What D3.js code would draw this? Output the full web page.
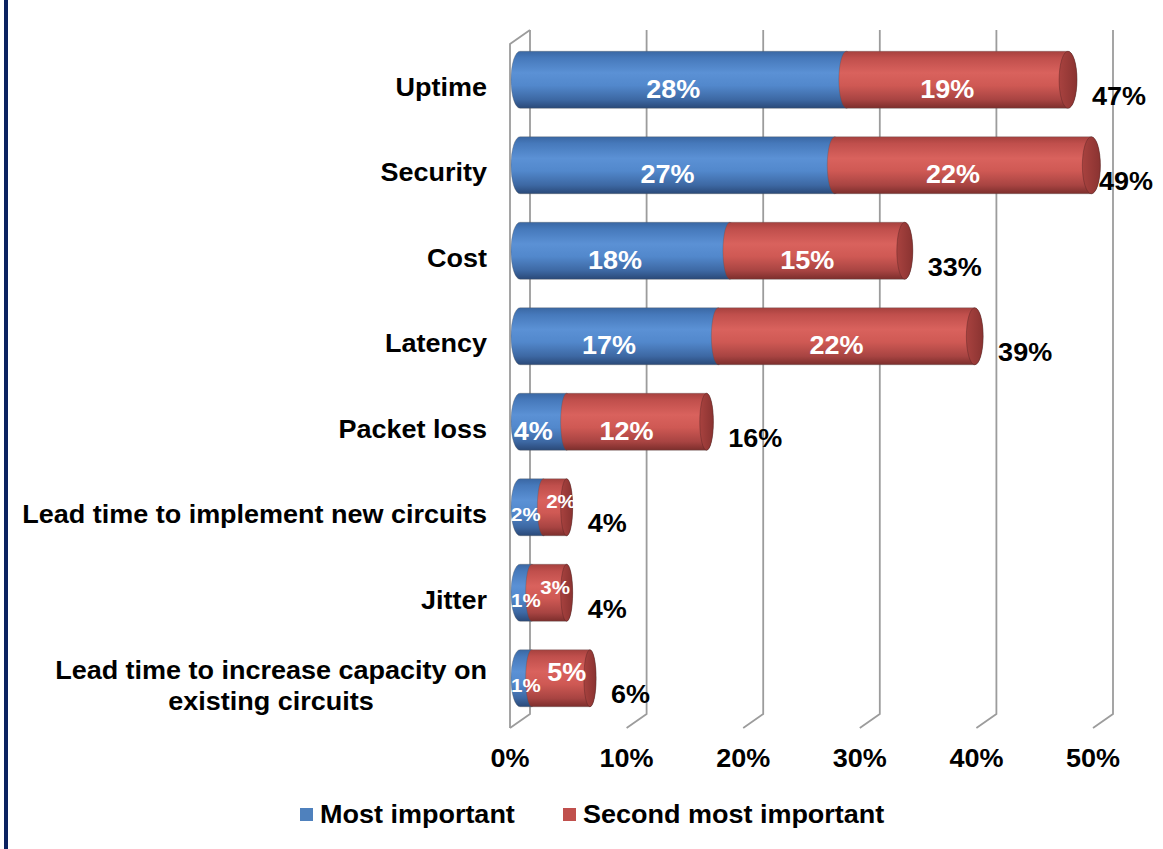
<!DOCTYPE html>
<html>
<head>
<meta charset="utf-8">
<script src="https://cdn.jsdelivr.net/npm/d3@7"></script>
<style>
  html, body { margin: 0; padding: 0; background: #ffffff; }
  svg { display: block; }
  text { font-family: "Liberation Sans", Arial, sans-serif; font-weight: bold; }
</style>
</head>
<body>
<script>
// Survey results: most important vs second most important network attribute
const categories = [
  "Uptime",
  "Security",
  "Cost",
  "Latency",
  "Packet loss",
  "Lead time to implement new circuits",
  "Jitter",
  "Lead time to increase capacity on\nexisting circuits"
];
const mostImportant = [28, 27, 18, 17, 4, 2, 1, 1];
const secondMostImportant = [19, 22, 15, 22, 12, 2, 3, 5];
const totals = [47, 49, 33, 39, 16, 4, 4, 6];
const xTicks = [0, 10, 20, 30, 40, 50];
const seriesNames = ["Most important", "Second most important"];

const W = 1163, H = 849;
const FRONT_TOP = 44, FRONT_BOTTOM = 728;
const DX = 20, DY = -14;          // depth offset of the back wall
const STRETCH = 1.08;              // horizontal text stretch

const svg = d3.select("body").append("svg").attr("width", W).attr("height", H);

// page frame edge
svg.append("rect").attr("x", 4).attr("y", 0).attr("width", 4).attr("height", H).attr("fill", "#0b2260");

const x = d3.scaleLinear().domain([0, 50]).range([510, 1093]);
const y = d3.scaleBand().domain(categories).range([FRONT_TOP, FRONT_BOTTOM])
  .paddingInner(1 / 3).paddingOuter(1 / 6);

const defs = svg.append("defs");
function vGrad(id, stops) {
  const g = defs.append("linearGradient").attr("id", id).attr("x1", 0).attr("y1", 0).attr("x2", 0).attr("y2", 1);
  stops.forEach(([o, c]) => g.append("stop").attr("offset", o).attr("stop-color", c));
}
vGrad("blueBody", [[0, "#3a67a3"], [0.12, "#4679bb"], [0.38, "#5b91d5"], [0.6, "#5288cc"], [0.85, "#3d68a3"], [1, "#2a4978"]]);
vGrad("redBody", [[0, "#a6413e"], [0.12, "#c04f4c"], [0.38, "#d9625d"], [0.6, "#cf5954"], [0.85, "#a84442"], [1, "#7c2e2c"]]);
const capG = defs.append("linearGradient").attr("id", "redCap").attr("x1", 0).attr("y1", 0).attr("x2", 1).attr("y2", 0);
capG.append("stop").attr("offset", 0).attr("stop-color", "#a8423f");
capG.append("stop").attr("offset", 1).attr("stop-color", "#8a3331");

// back wall, left wall and floor edges
const grid = svg.append("g").attr("fill", "none").attr("stroke", "#9c9c9c").attr("stroke-width", 1.8);
xTicks.forEach(t => {
  grid.append("path").attr("d",
    `M${x(t) + DX},${FRONT_TOP + DY} V${FRONT_BOTTOM + DY} L${x(t)},${FRONT_BOTTOM}`);
});
grid.append("path").attr("d",
  `M${x(0)},${FRONT_BOTTOM} V${FRONT_TOP} L${x(0) + DX},${FRONT_TOP + DY}`);

// stretched text helper
function label(parent, str, px, py, opt = {}) {
  const g = parent.append("g").attr("transform", `translate(${px},${py}) scale(${STRETCH},1)`);
  const t = g.append("text").attr("x", 0).attr("y", 0)
    .attr("font-size", opt.size || 25)
    .attr("fill", opt.fill || "#000")
    .attr("text-anchor", opt.anchor || "start")
    .text(str);
  return t;
}

function rxAt(xc) { return Math.max(6, Math.min(9, 6 + (xc - 570) * 3 / 510)); }

const bars = svg.append("g");
const labels = svg.append("g");

categories.forEach((c, i) => {
  const frontCenter = y(c) + y.bandwidth() / 2;
  const cy = frontCenter + DY / 2;
  const ry = y.bandwidth() / 2;
  const top = cy - ry, bottom = cy + ry;
  const segs = [
    { a: 0, b: mostImportant[i], fill: "url(#blueBody)", v: mostImportant[i], s: 0 },
    { a: mostImportant[i], b: mostImportant[i] + secondMostImportant[i], fill: "url(#redBody)", v: secondMostImportant[i], s: 1 }
  ];
  let endX = 0, endRx = 0;
  segs.forEach(sg => {
    const x0 = x(sg.a) + DX / 2, x1 = x(sg.b) + DX / 2;
    const rxL = sg.a === 0 ? 9 : rxAt(x0);
    const rxR = rxAt(x1);
    bars.append("path")
      .attr("d", `M${x0},${top} L${x1},${top} A${rxR},${ry} 0 0 1 ${x1},${bottom} L${x0},${bottom} A${rxL},${ry} 0 0 1 ${x0},${top} Z`)
      .attr("fill", sg.fill)
      .attr("stroke", "rgba(80,80,80,0.3)").attr("stroke-width", 1);
    endX = x1; endRx = rxR;
  });
  // visible end face
  bars.append("ellipse").attr("cx", endX).attr("cy", cy).attr("rx", endRx).attr("ry", ry)
    .attr("fill", "url(#redCap)").attr("stroke", "rgba(70,30,30,0.35)").attr("stroke-width", 1);

  // segment value labels
  const short = totals[i] < 10;
  segs.forEach(sg => {
    const fs = sg.v >= 4 ? 25 : 19;
    const mid = (sg.a + sg.b) / 2;
    let px = x(mid), py = frontCenter + 11;
    if (short) {
      if (sg.s === 0) {
        const w = fs * 1.445 * STRETCH;
        px = Math.max(x(mid), x(0) + 1 + w / 2);
        py = frontCenter + 7;
      } else {
        px = x(mid) + 16;
        py = frontCenter - 13 + 0.36 * fs;
      }
    }
    label(labels, sg.v + "%", px, py, { size: fs, fill: "#ffffff", anchor: "middle" });
  });

  // stack total
  const tx = Math.min(endX + endRx + 15, 1099);
  label(labels, totals[i] + "%", tx, frontCenter + 18, { size: 25 });

  // category label (right aligned block, lines centred)
  const lines = c.split("\n");
  const n = lines.length;
  const lg = labels.append("g");
  const texts = lines.map((ln, k) =>
    label(lg, ln, 0, frontCenter + 9 + (k - (n - 1) / 2) * 31, { size: 25, anchor: "middle" }));
  const maxW = d3.max(texts, t => t.node().getComputedTextLength()) * STRETCH;
  const cx = 487 - maxW / 2;
  texts.forEach(t => {
    const g = d3.select(t.node().parentNode);
    const tr = g.attr("transform").replace(/translate\([^,]+,/, `translate(${cx},`);
    g.attr("transform", tr);
  });
});

// value axis labels
xTicks.forEach(t => label(labels, t + "%", x(t), 767, { size: 25, anchor: "middle" }));

// legend
const legendColors = ["#4f81bd", "#c0504d"];
const legendX = [300, 563];
seriesNames.forEach((s, k) => {
  svg.append("rect").attr("x", legendX[k]).attr("y", 808).attr("width", 13).attr("height", 13).attr("fill", legendColors[k]);
  label(svg, s, legendX[k] + 20, 823, { size: 25 });
});
</script>
</body>
</html>
